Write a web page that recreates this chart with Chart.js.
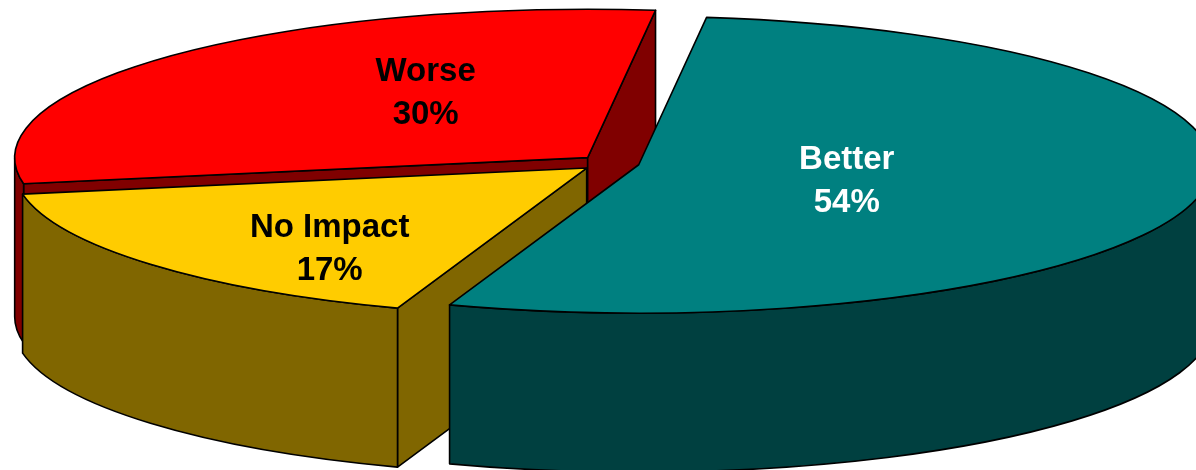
<!DOCTYPE html>
<html>
<head>
<meta charset="utf-8">
<style>html,body{margin:0;padding:0;background:#fff}#w{width:1196px;height:470px;position:relative}</style>
<script src="https://cdn.jsdelivr.net/npm/chart.js@4"></script>
</head>
<body>
<div id="w"><canvas id="c" width="1196" height="470"></canvas></div>
<script>
const categories = ['Better', 'No Impact', 'Worse'];
const values = [54, 17, 30];
const percentLabels = ['54%', '17%', '30%'];
const topColors = ['#008080', '#FFCC00', '#FF0000'];
const sideColors = ['#004040', '#806600', '#800000'];
const labelColors = ['#FFFFFF', '#000000', '#000000'];
const labelShift = [[208, 16], [-257, 81], [-162, -65]];
const squash = 0.259, depth = 159, rotationDeg = 6.8, explodePx = 30, radius = 573;

function sliceGeom(a) {
  const p = a.getProps(['x','y','startAngle','endAngle']);
  const m = (p.startAngle + p.endAngle) / 2;
  return {x: p.x + Math.cos(m)*explodePx, y: p.y + Math.sin(m)*explodePx, s: p.startAngle, e: p.endAngle, r: radius};
}

const pie3d = {
  id: 'pie3d',
  afterDatasetsUpdate(chart) {
    // The arc grows by offset/4 * (1 - sin(sweep)) when painted; keep every slice on one radius
    chart.getDatasetMeta(0).data.forEach(a => {
      const sweep = a.endAngle - a.startAngle;
      a.outerRadius = radius - explodePx * (1 - Math.sin(Math.min(Math.PI, sweep)));
    });
  },
  beforeDatasetsDraw(chart) {
    const ctx = chart.ctx, arcs = chart.getDatasetMeta(0).data;
    const cy = arcs[0].y;
    const d = depth / squash;
    const stroke = () => {
      ctx.save(); ctx.setTransform(1,0,0,1,0,0);
      ctx.lineWidth = 1.6; ctx.strokeStyle = '#000'; ctx.lineJoin = 'round'; ctx.stroke();
      ctx.restore();
    };
    ctx.save();
    ctx.translate(0, cy); ctx.scale(1, squash); ctx.translate(0, -cy);
    // back to front: Worse, No Impact, Better
    [2, 1, 0].forEach(i => {
      const g = sliceGeom(arcs[i]);
      ctx.fillStyle = sideColors[i];
      // a cut face shows only when its outward normal points at the viewer
      [[g.s, -Math.PI / 2], [g.e, Math.PI / 2]].forEach(([t, n]) => {
        if (Math.sin(t + n) <= 0) return;
        const ex = g.x + Math.cos(t)*g.r, ey = g.y + Math.sin(t)*g.r;
        ctx.beginPath(); ctx.moveTo(g.x, g.y); ctx.lineTo(ex, ey); ctx.lineTo(ex, ey + d); ctx.lineTo(g.x, g.y + d); ctx.closePath();
        ctx.fill(); stroke();
      });
      const full = Math.PI * 2;
      for (const k of [0, full]) {
        const a0 = Math.max(g.s, k), a1 = Math.min(g.e, k + Math.PI);
        if (a1 <= a0) continue;
        ctx.beginPath();
        ctx.arc(g.x, g.y, g.r, a0, a1);
        ctx.arc(g.x, g.y + d, g.r, a1, a0, true);
        ctx.closePath(); ctx.fill(); stroke();
      }
    });
    // the squashed transform stays active for the library's arcs
  },
  afterDatasetsDraw(chart) {
    const ctx = chart.ctx, arcs = chart.getDatasetMeta(0).data;
    [2, 1, 0].forEach(i => {
      const g = sliceGeom(arcs[i]);
      ctx.beginPath(); ctx.moveTo(g.x, g.y); ctx.arc(g.x, g.y, g.r, g.s, g.e); ctx.closePath();
      // close any sliver between the library's fill and the outline
      ctx.fillStyle = topColors[i]; ctx.fill();
      ctx.save(); ctx.setTransform(1,0,0,1,0,0);
      ctx.lineWidth = 1.6; ctx.strokeStyle = '#000'; ctx.lineJoin = 'round'; ctx.stroke();
      ctx.restore();
    });
    const cy = arcs[0].y;
    ctx.restore();
    ctx.save();
    ctx.font = 'bold 33px "Liberation Sans", Arial, sans-serif';
    ctx.textAlign = 'center'; ctx.textBaseline = 'middle';
    arcs.forEach((a, i) => {
      const g = sliceGeom(a);
      const x = g.x + labelShift[i][0];
      const y = cy + (g.y - cy) * squash + labelShift[i][1];
      ctx.fillStyle = labelColors[i];
      ctx.fillText(categories[i], x, y - 21);
      ctx.fillText(percentLabels[i], x, y + 22);
    });
    ctx.restore();
  }
};

new Chart(document.getElementById('c'), {
  type: 'pie',
  data: {
    labels: categories,
    datasets: [{
      data: values,
      backgroundColor: topColors,
      borderWidth: 0,
      offset: explodePx * 4,
      clip: false
    }]
  },
  options: {
    responsive: false,
    animation: false,
    radius: radius,
    cutout: '0%',
    rotation: rotationDeg,
    layout: { padding: { left: 23, bottom: 144 } },
    plugins: { legend: { display: false }, tooltip: { enabled: false } }
  },
  plugins: [pie3d]
});
</script>
</body>
</html>
